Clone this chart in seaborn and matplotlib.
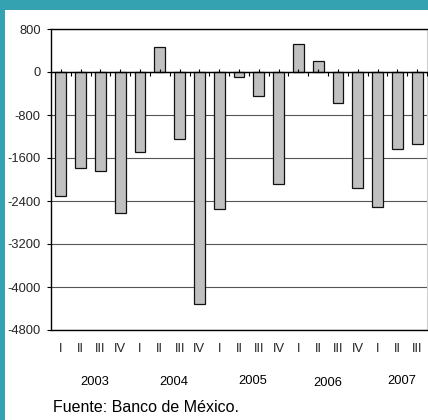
import matplotlib
matplotlib.use("Agg")
import matplotlib.pyplot as plt
import matplotlib.transforms as mtransforms
from matplotlib.patches import Rectangle
import seaborn as sns
import pandas as pd
import numpy as np

sns.set_style("white")
plt.rcParams["font.family"] = ["Liberation Sans", "DejaVu Sans"]

# Quarterly balance (millions of dollars), 2003 I - 2007 III
years = ["2003", "2004", "2005", "2006", "2007"]
quarters_per_year = [4, 4, 4, 4, 3]
roman = ["I", "II", "III", "IV"]
values = [-2300, -1790, -1840, -2620,
          -1480, 470, -1250, -4310,
          -2550, -90, -450, -2080,
          530, 210, -580, -2150,
          -2520, -1440, -1345]
y_ticks = [800, 0, -800, -1600, -2400, -3200, -4000, -4800]
source_note = "Fuente: Banco de México."

periods, q_labels = [], []
for yr, n in zip(years, quarters_per_year):
    for q in roman[:n]:
        periods.append(f"{yr} {q}")
        q_labels.append(q)
df = pd.DataFrame({"periodo": periods, "saldo": values})

W, H = 428, 420
fig = plt.figure(figsize=(W / 100, H / 100), dpi=100)
fig.patch.set_facecolor("white")

# teal frame: top band and left edge
teal = "#35A2B2"
fig.patches.append(Rectangle((0, 1 - 9.5 / H), 1, 9.5 / H, transform=fig.transFigure,
                             facecolor=teal, edgecolor="none", zorder=0))
fig.patches.append(Rectangle((0, 0), 5 / W, 1, transform=fig.transFigure,
                             facecolor=teal, edgecolor="none", zorder=0))

ax = fig.add_axes([51 / W, 1 - 330 / H, 376 / W, 301 / H])
sns.barplot(data=df, x="periodo", y="saldo", order=periods, color="#C0C0C0",
            edgecolor="#111111", linewidth=0.9, width=0.55, saturation=1, ax=ax)

ax.set_xlim(-0.5, len(periods) - 0.5)
ax.set_ylim(-4800, 800)
ax.set_yticks(y_ticks)
ax.set_yticklabels([str(v) for v in y_ticks], fontsize=9.3)
ax.set_xticks(range(len(periods)))
ax.set_xticklabels(q_labels, fontsize=9.3)
ax.set_xlabel("")
ax.set_ylabel("")
ax.tick_params(axis="y", left=True, length=3, width=0.8, color="black", pad=4.3)
ax.tick_params(axis="x", bottom=False, length=0, pad=9.5)

ax.set_axisbelow(True)
ax.yaxis.grid(True, color="#555555", linewidth=0.8)
for side in ["left", "top", "bottom"]:
    ax.spines[side].set_visible(True)
    ax.spines[side].set_color("black")
    ax.spines[side].set_linewidth(1.0)
ax.spines["right"].set_visible(True)
ax.spines["right"].set_color("#D0D0D0")
ax.spines["right"].set_linewidth(0.8)

# category axis crossing at zero, with its tick marks
ax2 = ax.twiny()
ax2.set_xlim(ax.get_xlim())
for side in ["left", "right", "top"]:
    ax2.spines[side].set_visible(False)
ax2.spines["bottom"].set_visible(True)
ax2.spines["bottom"].set_position(("data", 0))
ax2.spines["bottom"].set_color("black")
ax2.spines["bottom"].set_linewidth(1.0)
ax2.xaxis.set_ticks_position("bottom")
ax2.set_xticks(np.arange(len(periods)))
ax2.set_xticks(np.arange(len(periods) + 1) - 0.5, minor=True)
ax2.tick_params(axis="x", which="major", direction="in", length=2, width=0.8,
                color="black", labelbottom=False, labeltop=False)
ax2.tick_params(axis="x", which="minor", direction="out", length=3, width=0.8,
                color="black", labelbottom=False, labeltop=False)

# year labels under each group of quarters
year_shift = [0.2, 0.2, 0.2, 0.0, 0.2]
year_y = [382, 382, 381, 383, 381]
trans = mtransforms.blended_transform_factory(ax.transData, fig.transFigure)
start = 0
for yr, n, dx, yy in zip(years, quarters_per_year, year_shift, year_y):
    center = start + (n - 1) / 2 + dx
    ax.text(center, 1 - yy / H, yr, transform=trans, ha="center", va="center",
            fontsize=9.3, color="black")
    start += n

fig.text(53 / W, 1 - 408 / H, source_note, ha="left", va="center",
         fontsize=11.5, color="black")

fig.savefig("out.png", dpi=100, facecolor="white")
